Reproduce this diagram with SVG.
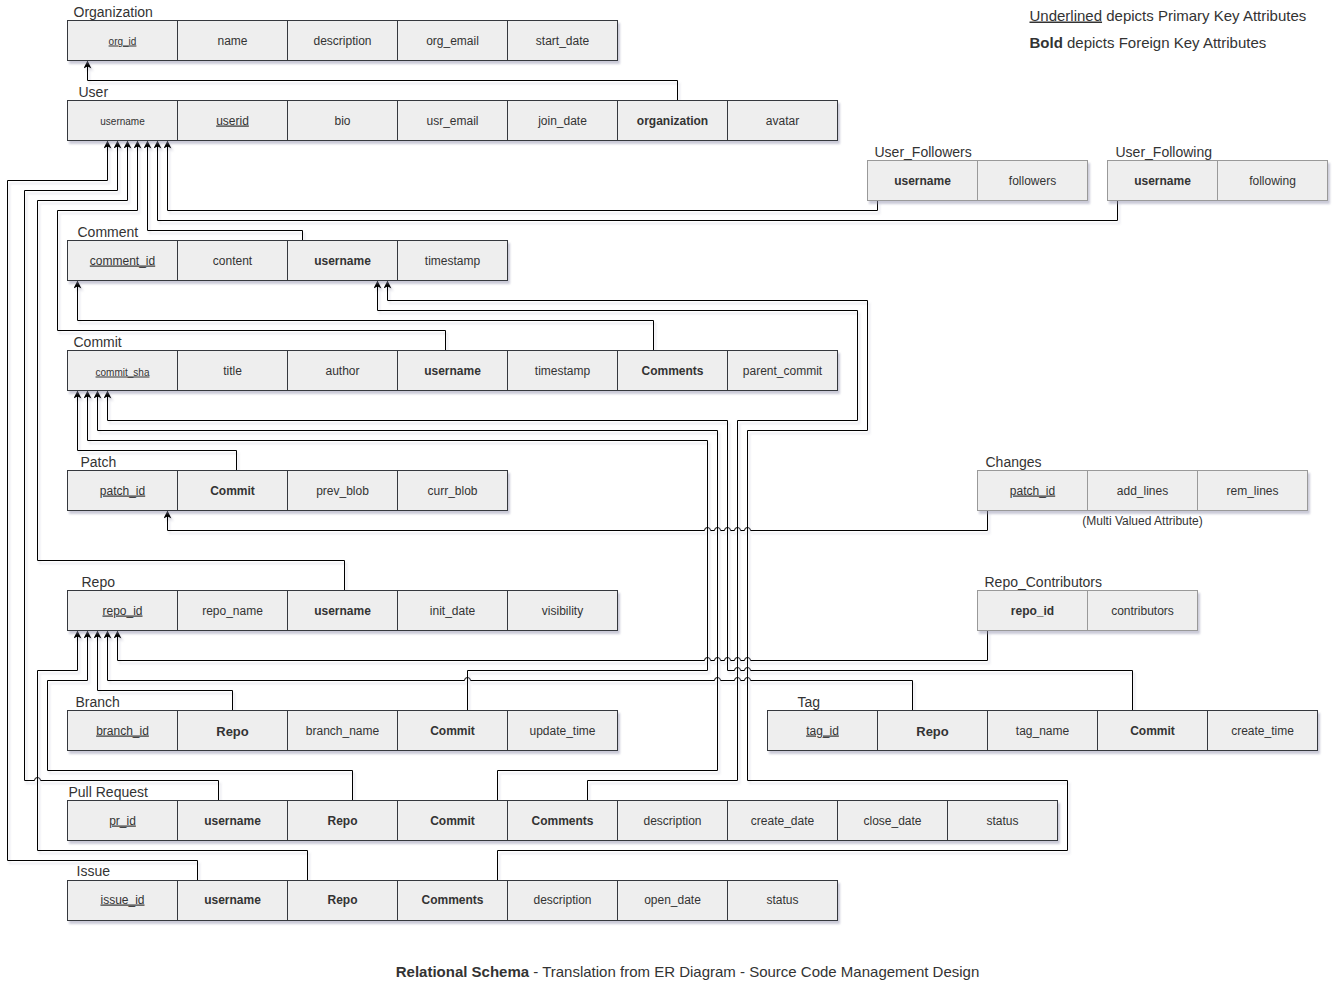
<svg xmlns="http://www.w3.org/2000/svg" width="1339" height="992" viewBox="0 0 1339 992">
<defs>
<filter id="sh" x="-5%" y="-5%" width="115%" height="130%">
<feDropShadow dx="2" dy="3" stdDeviation="1.2" flood-color="#8a8aa8" flood-opacity="0.45"/>
</filter>
<filter id="shl" x="-2%" y="-2%" width="104%" height="104%">
<feDropShadow dx="2" dy="3" stdDeviation="1" flood-color="#8a8aa8" flood-opacity="0.3"/>
</filter>
<marker id="arr" viewBox="0 0 10 10" refX="10" refY="5" markerWidth="8" markerHeight="8" markerUnits="userSpaceOnUse" orient="auto">
<path d="M0,0 L10,5 L0,10 L2.5,5 z" fill="#000"/>
</marker>
</defs>
<style>
.c{fill:#eeeeee;stroke:#36393d;stroke-width:1}
.cl{fill:#eeeeee;stroke:#999999;stroke-width:1}
.t{font-family:"Liberation Sans",Arial,Helvetica,sans-serif;font-size:12px;fill:#333333;text-anchor:middle}
.b{font-weight:bold}
.u{text-decoration:underline}
.s{font-size:10px}
.m{font-size:13px}
.h{font-family:"Liberation Sans",Arial,Helvetica,sans-serif;font-size:14px;fill:#333333}
.g{font-family:"Liberation Sans",Arial,Helvetica,sans-serif;font-size:15px;fill:#333333}
.e{fill:none;stroke:#000000;stroke-width:1;marker-end:url(#arr)}
</style>
<rect x="0" y="0" width="1339" height="992" fill="#ffffff"/>
<g transform="translate(0.5,0.5)">

<g id="connectors" filter="url(#shl)">
<path class="e" d="M677,100 V80 H87 V60"/>
<path class="e" d="M197,880 V860 H7 V180 H107 V140"/>
<path class="e" d="M218,800 V780 H40 A3,3 0 0 0 34,780 H24 V190 H117 V140"/>
<path class="e" d="M344,590 V560 H37 V200 H127 V140"/>
<path class="e" d="M445,350 V330 H57 V210 H137 V140"/>
<path class="e" d="M302,240 V230 H147 V140"/>
<path class="e" d="M1117,200 V220 H157 V140"/>
<path class="e" d="M877,200 V210 H167 V140"/>
<path class="e" d="M653,350 V320 H77 V280"/>
<path class="e" d="M587,800 V780 H737 V420 H857 V310 H377 V280"/>
<path class="e" d="M497,880 V850 H1067 V780 H747 V430 H867 V300 H387 V280"/>
<path class="e" d="M236,470 V450 H77 V390"/>
<path class="e" d="M467,710 V670 H707 V440 H87 V390"/>
<path class="e" d="M497,800 V770 H717 V430 H97 V390"/>
<path class="e" d="M1132,710 V670 H750 A3,3 0 0 0 744,670 H740 A3,3 0 0 0 734,670 H727 V420 H107 V390"/>
<path class="e" d="M987,510 V530 H750 A3,3 0 0 0 744,530 H740 A3,3 0 0 0 734,530 H730 A3,3 0 0 0 724,530 H720 A3,3 0 0 0 714,530 H710 A3,3 0 0 0 704,530 H167 V510"/>
<path class="e" d="M307,880 V850 H37 V670 H77 V630"/>
<path class="e" d="M352,800 V770 H47 V680 H87 V630"/>
<path class="e" d="M232,710 V690 H97 V630"/>
<path class="e" d="M912,710 V680 H750 A3,3 0 0 0 744,680 H740 A3,3 0 0 0 734,680 H720 A3,3 0 0 0 714,680 H470 A3,3 0 0 0 464,680 H107 V630"/>
<path class="e" d="M987,630 V660 H750 A3,3 0 0 0 744,660 H740 A3,3 0 0 0 734,660 H730 A3,3 0 0 0 724,660 H720 A3,3 0 0 0 714,660 H710 A3,3 0 0 0 704,660 H117 V630"/>
</g>

<g id="organization">
<text class="h" x="73" y="16">Organization</text>
<g filter="url(#sh)">
<rect class="c" x="67" y="20" width="110" height="40"/><rect class="c" x="177" y="20" width="110" height="40"/><rect class="c" x="287" y="20" width="110" height="40"/><rect class="c" x="397" y="20" width="110" height="40"/><rect class="c" x="507" y="20" width="110" height="40"/>
</g>
<text class="t s u" x="122" y="44">org_id</text>
<text class="t" x="232" y="44">name</text>
<text class="t" x="342" y="44">description</text>
<text class="t" x="452" y="44">org_email</text>
<text class="t" x="562" y="44">start_date</text>
</g>

<g id="user">
<text class="h" x="78" y="96">User</text>
<g filter="url(#sh)">
<rect class="c" x="67" y="100" width="110" height="40"/><rect class="c" x="177" y="100" width="110" height="40"/><rect class="c" x="287" y="100" width="110" height="40"/><rect class="c" x="397" y="100" width="110" height="40"/><rect class="c" x="507" y="100" width="110" height="40"/><rect class="c" x="617" y="100" width="110" height="40"/><rect class="c" x="727" y="100" width="110" height="40"/>
</g>
<text class="t s" x="122" y="124">username</text>
<text class="t u" x="232" y="124">userid</text>
<text class="t" x="342" y="124">bio</text>
<text class="t" x="452" y="124">usr_email</text>
<text class="t" x="562" y="124">join_date</text>
<text class="t b" x="672" y="124">organization</text>
<text class="t" x="782" y="124">avatar</text>
</g>

<g id="user_followers">
<text class="h" x="874" y="156">User_Followers</text>
<g filter="url(#sh)">
<rect class="cl" x="867" y="160" width="110" height="40"/><rect class="cl" x="977" y="160" width="110" height="40"/>
</g>
<text class="t b" x="922" y="184">username</text>
<text class="t" x="1032" y="184">followers</text>
</g>

<g id="user_following">
<text class="h" x="1115" y="156">User_Following</text>
<g filter="url(#sh)">
<rect class="cl" x="1107" y="160" width="110" height="40"/><rect class="cl" x="1217" y="160" width="110" height="40"/>
</g>
<text class="t b" x="1162" y="184">username</text>
<text class="t" x="1272" y="184">following</text>
</g>

<g id="comment">
<text class="h" x="77" y="236">Comment</text>
<g filter="url(#sh)">
<rect class="c" x="67" y="240" width="110" height="40"/><rect class="c" x="177" y="240" width="110" height="40"/><rect class="c" x="287" y="240" width="110" height="40"/><rect class="c" x="397" y="240" width="110" height="40"/>
</g>
<text class="t u" x="122" y="264">comment_id</text>
<text class="t" x="232" y="264">content</text>
<text class="t b" x="342" y="264">username</text>
<text class="t" x="452" y="264">timestamp</text>
</g>

<g id="commit">
<text class="h" x="73" y="346">Commit</text>
<g filter="url(#sh)">
<rect class="c" x="67" y="350" width="110" height="40"/><rect class="c" x="177" y="350" width="110" height="40"/><rect class="c" x="287" y="350" width="110" height="40"/><rect class="c" x="397" y="350" width="110" height="40"/><rect class="c" x="507" y="350" width="110" height="40"/><rect class="c" x="617" y="350" width="110" height="40"/><rect class="c" x="727" y="350" width="110" height="40"/>
</g>
<text class="t s u" x="122" y="375">commit_sha</text>
<text class="t" x="232" y="374">title</text>
<text class="t" x="342" y="374">author</text>
<text class="t b" x="452" y="374">username</text>
<text class="t" x="562" y="374">timestamp</text>
<text class="t b" x="672" y="374">Comments</text>
<text class="t" x="782" y="374">parent_commit</text>
</g>

<g id="patch">
<text class="h" x="80" y="466">Patch</text>
<g filter="url(#sh)">
<rect class="c" x="67" y="470" width="110" height="40"/><rect class="c" x="177" y="470" width="110" height="40"/><rect class="c" x="287" y="470" width="110" height="40"/><rect class="c" x="397" y="470" width="110" height="40"/>
</g>
<text class="t u" x="122" y="494">patch_id</text>
<text class="t b" x="232" y="494">Commit</text>
<text class="t" x="342" y="494">prev_blob</text>
<text class="t" x="452" y="494">curr_blob</text>
</g>

<g id="changes">
<text class="h" x="985" y="466">Changes</text>
<g filter="url(#sh)">
<rect class="cl" x="977" y="470" width="110" height="40"/><rect class="cl" x="1087" y="470" width="110" height="40"/><rect class="cl" x="1197" y="470" width="110" height="40"/>
</g>
<text class="t u" x="1032" y="494">patch_id</text>
<text class="t" x="1142" y="494">add_lines</text>
<text class="t" x="1252" y="494">rem_lines</text>
<text class="t" x="1142" y="524">(Multi Valued Attribute)</text>
</g>

<g id="repo">
<text class="h" x="81" y="586">Repo</text>
<g filter="url(#sh)">
<rect class="c" x="67" y="590" width="110" height="40"/><rect class="c" x="177" y="590" width="110" height="40"/><rect class="c" x="287" y="590" width="110" height="40"/><rect class="c" x="397" y="590" width="110" height="40"/><rect class="c" x="507" y="590" width="110" height="40"/>
</g>
<text class="t u" x="122" y="614">repo_id</text>
<text class="t" x="232" y="614">repo_name</text>
<text class="t b" x="342" y="614">username</text>
<text class="t" x="452" y="614">init_date</text>
<text class="t" x="562" y="614">visibility</text>
</g>

<g id="repo_contributors">
<text class="h" x="984" y="586">Repo_Contributors</text>
<g filter="url(#sh)">
<rect class="cl" x="977" y="590" width="110" height="40"/><rect class="cl" x="1087" y="590" width="110" height="40"/>
</g>
<text class="t b" x="1032" y="614">repo_id</text>
<text class="t" x="1142" y="614">contributors</text>
</g>

<g id="branch">
<text class="h" x="75" y="706">Branch</text>
<g filter="url(#sh)">
<rect class="c" x="67" y="710" width="110" height="40"/><rect class="c" x="177" y="710" width="110" height="40"/><rect class="c" x="287" y="710" width="110" height="40"/><rect class="c" x="397" y="710" width="110" height="40"/><rect class="c" x="507" y="710" width="110" height="40"/>
</g>
<text class="t u" x="122" y="734">branch_id</text>
<text class="t b m" x="232" y="735">Repo</text>
<text class="t" x="342" y="734">branch_name</text>
<text class="t b" x="452" y="734">Commit</text>
<text class="t" x="562" y="734">update_time</text>
</g>

<g id="tag">
<text class="h" x="797" y="706">Tag</text>
<g filter="url(#sh)">
<rect class="c" x="767" y="710" width="110" height="40"/><rect class="c" x="877" y="710" width="110" height="40"/><rect class="c" x="987" y="710" width="110" height="40"/><rect class="c" x="1097" y="710" width="110" height="40"/><rect class="c" x="1207" y="710" width="110" height="40"/>
</g>
<text class="t u" x="822" y="734">tag_id</text>
<text class="t b m" x="932" y="735">Repo</text>
<text class="t" x="1042" y="734">tag_name</text>
<text class="t b" x="1152" y="734">Commit</text>
<text class="t" x="1262" y="734">create_time</text>
</g>

<g id="pull_request">
<text class="h" x="68" y="796">Pull Request</text>
<g filter="url(#sh)">
<rect class="c" x="67" y="800" width="110" height="40"/><rect class="c" x="177" y="800" width="110" height="40"/><rect class="c" x="287" y="800" width="110" height="40"/><rect class="c" x="397" y="800" width="110" height="40"/><rect class="c" x="507" y="800" width="110" height="40"/><rect class="c" x="617" y="800" width="110" height="40"/><rect class="c" x="727" y="800" width="110" height="40"/><rect class="c" x="837" y="800" width="110" height="40"/><rect class="c" x="947" y="800" width="110" height="40"/>
</g>
<text class="t u" x="122" y="824">pr_id</text>
<text class="t b" x="232" y="824">username</text>
<text class="t b" x="342" y="824">Repo</text>
<text class="t b" x="452" y="824">Commit</text>
<text class="t b" x="562" y="824">Comments</text>
<text class="t" x="672" y="824">description</text>
<text class="t" x="782" y="824">create_date</text>
<text class="t" x="892" y="824">close_date</text>
<text class="t" x="1002" y="824">status</text>
</g>

<g id="issue">
<text class="h" x="76" y="875">Issue</text>
<g filter="url(#sh)">
<rect class="c" x="67" y="880" width="110" height="40"/><rect class="c" x="177" y="880" width="110" height="40"/><rect class="c" x="287" y="880" width="110" height="40"/><rect class="c" x="397" y="880" width="110" height="40"/><rect class="c" x="507" y="880" width="110" height="40"/><rect class="c" x="617" y="880" width="110" height="40"/><rect class="c" x="727" y="880" width="110" height="40"/>
</g>
<text class="t u" x="122" y="903">issue_id</text>
<text class="t b" x="232" y="903">username</text>
<text class="t b" x="342" y="903">Repo</text>
<text class="t b" x="452" y="903">Comments</text>
<text class="t" x="562" y="903">description</text>
<text class="t" x="672" y="903">open_date</text>
<text class="t" x="782" y="903">status</text>
</g>

<g id="legend">
<text class="g" x="1029" y="20"><tspan text-decoration="underline">Underlined</tspan> depicts Primary Key Attributes</text>
<text class="g" x="1029" y="47"><tspan font-weight="bold">Bold</tspan> depicts Foreign Key Attributes</text>
</g>

<g id="caption">
<text class="g" x="687" y="976" text-anchor="middle"><tspan font-weight="bold">Relational Schema</tspan> - Translation from ER Diagram - Source Code Management Design</text>
</g>
</g>
</svg>
